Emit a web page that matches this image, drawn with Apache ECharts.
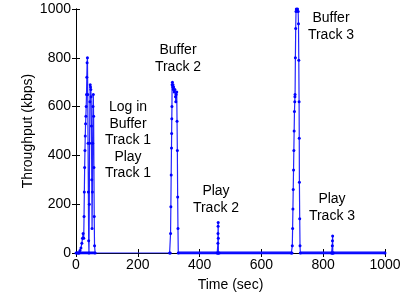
<!DOCTYPE html>
<html>
<head>
    <meta charset="utf-8">
    <title>Throughput</title>
    <script src="https://cdn.jsdelivr.net/npm/echarts@6/dist/echarts.min.js"></script>
    <style>
        html, body { margin: 0; padding: 0; background: #fff; }
        #chart { width: 407px; height: 301px; }
    </style>
</head>
<body>
<div id="chart"></div>
<script type="text/javascript">
    // 刻度
    var xTicks = [0, 200, 400, 600, 800, 1000];
    var yTicks = [0, 200, 400, 600, 800, 1000];

    // 登录 + 缓冲第1首 + 播放第1首
    var burst1 = [[0,0],[4,0],[8,0],[10,0],[13,10],[16,20],[19,40],[21,60],[23,80],[25,60],[26,150],[27,250],[28,350],
        [29,420],[30,480],[31,530],[32,560],[33,600],[34,650],[35,720],[36,780],[37,800],[38,650],[39,450],
        [40,250],[41,50],[42,0],[43,200],[44,450],[45,620],[46,690],[47,680],[48,670],[49,640],[50,520],
        [51,300],[52,100],[53,250],[54,450],[55,600],[56,650],[57,560],[58,350],[59,150],[60,30],[62,0]];
    // 缓冲第2首
    var burst2 = [[303,0],[305,0],[306,80],[307,190],[308,320],[309,430],[309.5,490],[310,550],[310.5,600],
        [311,690],[312,700],[313,680],[314,690],[315,670],[316,680],[318,660],[320,670],[322,640],[323,620],
        [324,650],[326,660],[327,540],[328,420],[329,230],[330,100],[331,0]];
    // 播放第2首
    var play2 = [[457,0],[459,0],[459.3,40],[459.6,80],[459.9,110],[460.2,125],[460.5,60],[460.8,0],[463,0]];
    // 缓冲第3首
    var burst3 = [[697,0],[699,0],[700,30],[701,100],[702,180],[703,260],[704,340],[705,420],[706,500],
        [707,580],[708,620],[708.5,640],[709,650],[710,800],[711,920],[712,990],[713,1000],[715,995],
        [717,1000],[719,990],[720,940],[721,790],[722,620],[722.5,470],[723,290],[724,140],[725,30],[726,0]];
    // 播放第3首
    var play3 = [[827,0],[829,0],[829.5,30],[830,50],[830.5,70],[831,0],[833,0],[1000,0]];

    // 零值基线（各段之间）
    var baseline = [[0,0],[62,0],null,[331,0],[697,0],null,[726,0],[1000,0]];

    var throughput = [].concat(burst1, burst2, play2, burst3, play3);

    var notes = [
        { x: 128, y: 99, lines: ['Log in', 'Buffer', 'Track 1', 'Play', 'Track 1'] },
        { x: 178, y: 42, lines: ['Buffer', 'Track 2'] },
        { x: 216, y: 183, lines: ['Play', 'Track 2'] },
        { x: 331, y: 10, lines: ['Buffer', 'Track 3'] },
        { x: 332, y: 191, lines: ['Play', 'Track 3'] }
    ];

    var myChart = echarts.init(document.getElementById('chart'));

    var font = 'Liberation Sans, Arial, sans-serif';
    var axisCommon = {
        min: 0,
        max: 1000,
        interval: 200,
        axisLine: { show: true, lineStyle: { color: '#000', width: 1 } },
        axisTick: { show: true, inside: true, length: 4, lineStyle: { color: '#000' } },
        splitLine: { show: false }
    };

    myChart.setOption({
        animation: false,
        grid: { left: 76, right: 22, top: 9, bottom: 48 },
        xAxis: [
            Object.assign({}, axisCommon, {
                type: 'value',
                name: 'Time (sec)',
                nameLocation: 'middle',
                nameGap: 25,
                nameMoveOverlap: false,
                nameTextStyle: { color: '#000', fontSize: 14, fontFamily: font },
                axisLabel: { color: '#000', fontSize: 14, fontFamily: font, margin: 5,
                    formatter: function (v) { return xTicks.indexOf(v) >= 0 ? String(v) : ''; } }
            }),
            Object.assign({}, axisCommon, { type: 'value', position: 'top', axisLabel: { show: false } })
        ],
        yAxis: [
            Object.assign({}, axisCommon, {
                type: 'value',
                name: 'Throughput (kbps)',
                nameLocation: 'middle',
                nameGap: 41,
                nameMoveOverlap: false,
                nameTextStyle: { color: '#000', fontSize: 14, fontFamily: font },
                axisLabel: { color: '#000', fontSize: 14, fontFamily: font, margin: 5,
                    formatter: function (v) { return yTicks.indexOf(v) >= 0 ? String(v) : ''; } }
            }),
            Object.assign({}, axisCommon, { type: 'value', position: 'right', axisLabel: { show: false } })
        ],
        series: [
            {
                name: 'baseline',
                type: 'line',
                data: baseline,
                showSymbol: false,
                connectNulls: false,
                lineStyle: { color: '#0000ff', width: 3 },
                z: 3
            },
            {
                name: 'Throughput',
                type: 'line',
                data: throughput,
                symbol: 'circle',
                symbolSize: 3,
                itemStyle: { color: '#0000ff' },
                lineStyle: { color: '#2222ff', width: 1.2 },
                z: 4
            }
        ],
        graphic: notes.map(function (n) {
            return {
                type: 'text',
                x: n.x,
                y: n.y,
                style: {
                    text: n.lines.join('\n'),
                    fill: '#000',
                    font: '14px ' + font,
                    align: 'center',
                    verticalAlign: 'top',
                    lineHeight: 16.5
                }
            };
        })
    });
</script>
</body>
</html>
